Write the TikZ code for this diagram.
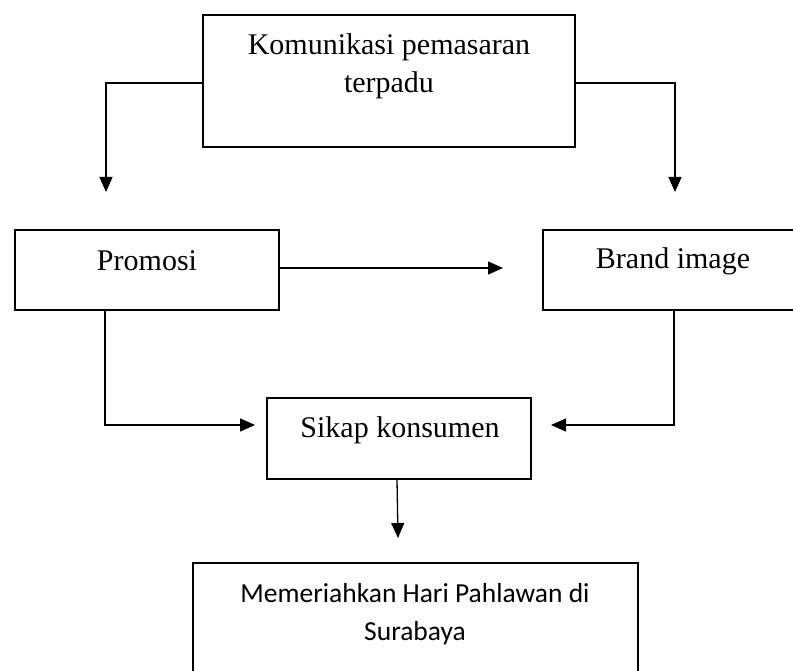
\documentclass[tikz,border=0pt]{standalone}
\usepackage{fontspec}
\setmainfont{Liberation Serif}
\newfontfamily\calib{Carlito}
\usetikzlibrary{arrows.meta}
\begin{document}
\begin{tikzpicture}[x=1pt,y=-1pt,
  box/.style={draw, line width=1.3pt, rectangle, inner sep=0pt},
  lbl/.style={font=\fontsize{30}{38}\selectfont, inner sep=0pt, align=center},
  lblc/.style={font=\calib\fontsize{27.5}{38}\selectfont, inner sep=0pt, align=center},
  conn/.style={line width=1.3pt},
  arr/.style={conn, -{Triangle[length=15pt,width=13pt]}}]
\clip (0,0) rectangle (793,671);
\fill[white] (0,0) rectangle (793,671);
% boxes
\node[box, minimum width=372pt, minimum height=132pt] (kom) at (389,81) {};
\node[box, minimum width=264pt, minimum height=80pt] (promosi) at (147,270) {};
\node[box, minimum width=264pt, minimum height=80pt] (brand) at (675,270) {};
\node[box, minimum width=264pt, minimum height=81pt] (sikap) at (399,438.5) {};
\node[box, minimum width=445pt, minimum height=137pt] (hasil) at (415.5,631.5) {};
% labels
\node[lbl] (tkom) at (389,66.5) {Komunikasi pemasaran\\terpadu};
\node[lbl] (tpro) at (147,261) {Promosi};
\node[lbl] (tbra) at (673,261) {Brand image};
\node[lbl] (tsik) at (400,430) {Sikap konsumen};
\node[lblc] (thas) at (415,614) {Memeriahkan Hari Pahlawan di\\Surabaya};
% free ends
\coordinate (kl) at (106,192);
\coordinate (kr) at (675,192);
\coordinate (pb) at (503,268);
\coordinate (pl) at (105,425);
\coordinate (sl) at (255,425);
\coordinate (br) at (674,425);
\coordinate (sr) at (551,425);
\coordinate (sd) at (398,538);
% connectors
\draw[arr] ([yshift=-2pt]kom.west) -| (kl);
\draw[arr] ([yshift=-2pt]kom.east) -| (kr);
\draw[arr] (promosi.east |- pb) -- (pb);
\draw[arr] (promosi.south -| pl) |- (sl);
\draw[arr] (brand.south -| br) |- (sr);
\draw[arr] ([xshift=-2pt]sikap.south) -- (sd);
\end{tikzpicture}
\end{document}
